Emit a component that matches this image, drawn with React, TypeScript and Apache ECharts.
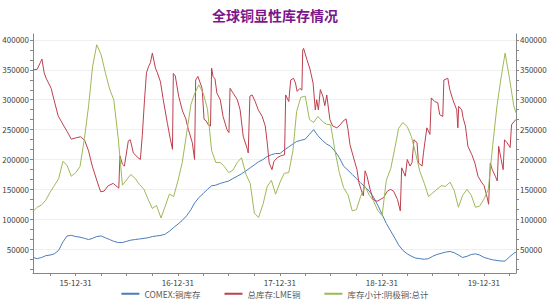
import React, { useEffect, useRef } from 'react';
import * as echarts from 'echarts';

const TITLE = '全球铜显性库存情况';
const NAME_COMEX = 'COMEX:铜库存';
const NAME_LME = '总库存:LME铜';
const NAME_CN = '库存小计:阴极铜:总计';

const X_START = '2015-08-01';
const X_END = '2020-04-24';
const X_LABEL_DATES = ['2015-12-31', '2016-12-31', '2017-12-31', '2018-12-31', '2019-12-31'];
const Y_MIN = 10000;
const Y_MAX = 410000;
const Y_LABEL_VALUES = [50000, 100000, 150000, 200000, 250000, 300000, 350000, 400000];

// half-month sampling calendar for COMEX and China series (1st and 16th of each month)
function buildHalfMonthDates(): string[] {
  const out: string[] = [];
  for (let y = 2015; y <= 2020; y++) {
    for (let m = 1; m <= 12; m++) {
      if (y === 2015 && m < 8) continue;
      if (y === 2020 && m > 4) continue;
      const mm = String(m).padStart(2, '0');
      out.push(`${y}-${mm}-01`, `${y}-${mm}-16`);
    }
  }
  out.push('2020-04-24');
  return out;
}
const sampleDates = buildHalfMonthDates();

const comexValues = [
  36000, 34000, 36000, 39000, 40000, 42000, 48000, 62000, 72000, 73000,
  71000, 70000, 68000, 66000, 68000, 71000, 72000, 69000, 66000, 63000,
  61000, 61000, 63000, 65000, 66000, 67000, 68000, 69000, 71000, 72000,
  73000, 75000, 80000, 86000, 92000, 98000, 106000, 116000, 127000, 136000,
  143000, 150000, 156000, 157000, 160000, 162000, 164000, 168000, 172000, 176000,
  181000, 186000, 191000, 196000, 200000, 205000, 208000, 210000, 210000, 216000,
  221000, 226000, 230000, 232000, 234000, 242000, 250000, 240000, 232000, 226000,
  222000, 214000, 203000, 189000, 182000, 175000, 168000, 161000, 154000, 147000,
  137000, 124000, 108000, 93000, 80000, 68000, 57000, 48000, 42000, 38000,
  35000, 34000, 33000, 34000, 38000, 41000, 43000, 45000, 46000, 44000,
  40000, 36000, 38000, 41000, 42000, 40000, 36000, 34000, 32000, 31000,
  30000, 30000, 37000, 43000, 45000,
];

const chinaValues = [
  113000, 120000, 124000, 132000, 145000, 156000, 168000, 197000, 190000, 172000,
  178000, 188000, 235000, 290000, 355000, 392000, 375000, 345000, 318000, 300000,
  235000, 157000, 166000, 175000, 168000, 158000, 150000, 133000, 118000, 123000,
  102000, 122000, 142000, 138000, 165000, 195000, 245000, 292000, 310000, 325000,
  311000, 285000, 215000, 195000, 195000, 188000, 178000, 182000, 195000, 203000,
  175000, 160000, 110000, 103000, 125000, 155000, 165000, 142000, 162000, 177000,
  178000, 215000, 280000, 304000, 306000, 267000, 262000, 272000, 264000, 259000,
  258000, 215000, 178000, 153000, 141000, 114000, 116000, 138000, 155000, 140000,
  131000, 115000, 106000, 165000, 185000, 220000, 252000, 262000, 255000, 238000,
  210000, 180000, 160000, 138000, 144000, 150000, 156000, 155000, 162000, 148000,
  120000, 140000, 150000, 140000, 120000, 122000, 134000, 150000, 225000, 290000,
  335000, 378000, 335000, 290000, 278000,
];

const lmeData: [string, number][] = [
  ['2015-08-02', 350000], ['2015-08-16', 351000], ['2015-08-27', 362000], ['2015-09-02', 368000],
  ['2015-09-10', 345000], ['2015-09-17', 336000], ['2015-10-05', 319000], ['2015-10-15', 300000],
  ['2015-10-30', 273000], ['2015-11-17', 258000], ['2015-12-01', 247000], ['2015-12-16', 234000],
  ['2015-12-31', 236000], ['2016-01-18', 238000], ['2016-02-02', 232000], ['2016-02-16', 214000],
  ['2016-02-29', 189000], ['2016-03-17', 164000], ['2016-03-30', 146000], ['2016-04-11', 147000],
  ['2016-04-26', 156000], ['2016-05-14', 160000], ['2016-05-29', 154000], ['2016-06-03', 152000],
  ['2016-06-07', 206000], ['2016-06-16', 192000], ['2016-06-23', 189000], ['2016-07-07', 231000],
  ['2016-07-14', 233000], ['2016-07-25', 211000], ['2016-08-08', 204000], ['2016-08-19', 200000],
  ['2016-08-26', 240000], ['2016-09-03', 300000], ['2016-09-10', 345000], ['2016-09-17', 355000],
  ['2016-09-24', 362000], ['2016-10-01', 378000], ['2016-10-12', 353000], ['2016-10-19', 345000],
  ['2016-10-30', 330000], ['2016-11-09', 300000], ['2016-11-24', 260000], ['2016-12-04', 235000],
  ['2016-12-12', 217000], ['2016-12-15', 344000], ['2016-12-22', 340000], ['2017-01-03', 306000],
  ['2017-01-17', 281000], ['2017-01-28', 269000], ['2017-02-07', 250000], ['2017-02-21', 228000],
  ['2017-03-01', 200000], ['2017-03-05', 333000], ['2017-03-13', 339000], ['2017-03-28', 319000],
  ['2017-04-04', 267000], ['2017-04-11', 265000], ['2017-04-19', 258000], ['2017-04-27', 256000],
  ['2017-05-01', 353000], ['2017-05-06', 339000], ['2017-05-13', 335000], ['2017-05-20', 311000],
  ['2017-06-01', 300000], ['2017-06-11', 272000], ['2017-06-25', 250000], ['2017-07-02', 245000],
  ['2017-07-06', 319000], ['2017-07-17', 311000], ['2017-08-01', 300000], ['2017-08-11', 283000],
  ['2017-08-22', 239000], ['2017-09-06', 217000], ['2017-09-09', 211000], ['2017-09-15', 306000],
  ['2017-09-23', 308000], ['2017-10-04', 297000], ['2017-10-15', 283000], ['2017-10-29', 272000],
  ['2017-11-09', 256000], ['2017-11-16', 228000], ['2017-11-23', 194000], ['2017-12-03', 183000],
  ['2017-12-10', 197000], ['2017-12-22', 203000], ['2018-01-03', 206000], ['2018-01-17', 208000],
  ['2018-01-21', 308000], ['2018-02-01', 297000], ['2018-02-08', 333000], ['2018-02-18', 336000],
  ['2018-02-25', 328000], ['2018-03-03', 314000], ['2018-03-13', 319000], ['2018-03-20', 316000],
  ['2018-03-23', 383000], ['2018-03-26', 386000], ['2018-04-07', 367000], ['2018-04-17', 353000],
  ['2018-04-29', 328000], ['2018-05-07', 283000], ['2018-05-12', 300000], ['2018-05-18', 283000],
  ['2018-05-25', 317000], ['2018-06-03', 306000], ['2018-06-10', 290000], ['2018-06-17', 308000],
  ['2018-06-28', 267000], ['2018-07-08', 256000], ['2018-07-23', 253000], ['2018-08-04', 258000],
  ['2018-08-14', 264000], ['2018-08-25', 268000], ['2018-09-01', 250000], ['2018-09-08', 225000],
  ['2018-09-19', 206000], ['2018-10-03', 183000], ['2018-10-10', 161000], ['2018-10-21', 145000],
  ['2018-10-26', 139000], ['2018-11-01', 181000], ['2018-11-08', 172000], ['2018-11-19', 150000],
  ['2018-11-30', 133000], ['2018-12-14', 130000], ['2018-12-25', 133000], ['2019-01-06', 136000],
  ['2019-01-20', 147000], ['2019-01-31', 150000], ['2019-02-11', 147000], ['2019-02-25', 133000],
  ['2019-03-07', 114000], ['2019-03-12', 186000], ['2019-03-25', 172000], ['2019-04-01', 200000],
  ['2019-04-11', 189000], ['2019-04-18', 195000], ['2019-04-25', 233000], ['2019-05-06', 228000],
  ['2019-05-11', 194000], ['2019-05-24', 189000], ['2019-05-29', 211000], ['2019-06-10', 253000],
  ['2019-06-21', 242000], ['2019-06-26', 303000], ['2019-07-08', 297000], ['2019-07-19', 295000],
  ['2019-07-26', 275000], ['2019-08-06', 272000], ['2019-08-10', 333000], ['2019-08-24', 336000],
  ['2019-08-31', 317000], ['2019-09-11', 300000], ['2019-09-25', 283000], ['2019-09-29', 253000],
  ['2019-10-02', 289000], ['2019-10-13', 283000], ['2019-10-18', 269000], ['2019-10-26', 256000],
  ['2019-11-04', 222000], ['2019-11-18', 208000], ['2019-11-29', 194000], ['2019-12-10', 172000],
  ['2019-12-24', 161000], ['2020-01-01', 156000], ['2020-01-12', 136000], ['2020-01-17', 125000],
  ['2020-01-23', 194000], ['2020-01-30', 183000], ['2020-02-10', 172000], ['2020-02-17', 164000],
  ['2020-02-22', 222000], ['2020-03-02', 200000], ['2020-03-09', 183000], ['2020-03-14', 233000],
  ['2020-03-23', 228000], ['2020-04-03', 220000], ['2020-04-08', 258000], ['2020-04-13', 261000],
  ['2020-04-24', 267000],
];

function toTs(s: string): number {
  const [y, m, d] = s.split('-').map(Number);
  return new Date(y, m - 1, d).getTime();
}

// quarter-end tick marks on the date axis
function quarterTicks(): number[] {
  const out: number[] = [];
  const ends = [[3, 31], [6, 30], [9, 30], [12, 31]];
  for (let y = 2015; y <= 2020; y++) {
    for (const [m, d] of ends) {
      const t = new Date(y, m - 1, d).getTime();
      if (t >= toTs(X_START) && t <= toTs(X_END)) out.push(t);
    }
  }
  return out;
}

// minor ticks on value axes (thirds of the 50000 step)
function yTicks(): number[] {
  const out: number[] = [];
  for (let k = 1; k <= 24; k++) {
    const v = Math.round((k * 50000) / 3);
    if (v >= Y_MIN && v <= Y_MAX) out.push(v);
  }
  return out;
}

function fmtDate(v: number): string {
  const d = new Date(v);
  const yy = String(d.getFullYear() % 100).padStart(2, '0');
  const mm = String(d.getMonth() + 1).padStart(2, '0');
  const dd = String(d.getDate()).padStart(2, '0');
  return `${yy}-${mm}-${dd}`;
}

const FONT = '"Noto Sans CJK SC", "Noto Sans", sans-serif';
const AXIS_COLOR = '#868686';
const LABEL_COLOR = '#404040';

function valueAxis(position: 'left' | 'right') {
  return {
    type: 'value',
    position,
    min: Y_MIN,
    max: Y_MAX,
    axisLine: { show: true, lineStyle: { color: AXIS_COLOR, width: 1 } },
    axisTick: { show: true, length: 3, customValues: yTicks(), lineStyle: { color: AXIS_COLOR } },
    axisLabel: {
      customValues: Y_LABEL_VALUES,
      formatter: (v: number) => String(Math.round(v)),
      fontSize: 8,
      color: LABEL_COLOR,
      margin: 4,
      fontFamily: FONT,
    },
    splitLine: { show: false },
  };
}

export default function App() {
  const ref = useRef<HTMLDivElement>(null);

  useEffect(() => {
    if (!ref.current) return;
    const chart = echarts.init(ref.current, null, { renderer: 'svg' });
    const comexData = sampleDates.map((d, i) => [toTs(d), comexValues[i]]);
    const chinaData = sampleDates.map((d, i) => [toTs(d), chinaValues[i]]);
    const lmeSeries = lmeData.map(([d, v]) => [toTs(d), v]);

    chart.setOption({
      animation: false,
      backgroundColor: '#ffffff',
      textStyle: { fontFamily: FONT },
      title: {
        text: TITLE,
        left: 'center',
        top: 3,
        textStyle: { fontSize: 14, fontWeight: 'bold', color: '#7A168B', fontFamily: FONT },
      },
      legend: {
        data: [NAME_COMEX, NAME_LME, NAME_CN],
        bottom: 3,
        left: 'center',
        icon: 'rect',
        itemWidth: 18,
        itemHeight: 2,
        itemGap: 24,
        textStyle: { fontSize: 8.5, color: '#595959', fontFamily: FONT },
      },
      grid: { left: 33, right: 34, top: 34, bottom: 33, outerBoundsMode: 'none', containLabel: false },
      xAxis: {
        type: 'value',
        min: toTs(X_START),
        max: toTs(X_END),
        axisLine: { show: true, lineStyle: { color: AXIS_COLOR, width: 1 } },
        axisTick: { show: true, length: 3, customValues: quarterTicks(), lineStyle: { color: AXIS_COLOR } },
        axisLabel: {
          customValues: X_LABEL_DATES.map(toTs),
          formatter: (v: number) => fmtDate(v),
          fontSize: 8,
          color: LABEL_COLOR,
          margin: 5,
          fontFamily: FONT,
        },
        splitLine: { show: false },
      },
      yAxis: [
        valueAxis('left'),
        valueAxis('right'),
        {
          type: 'value',
          position: 'left',
          min: Y_MIN,
          max: Y_MAX,
          axisLine: { show: false },
          axisTick: { show: false, customValues: Y_LABEL_VALUES },
          axisLabel: { show: false, customValues: Y_LABEL_VALUES },
          splitLine: { show: true, lineStyle: { color: '#efefef', width: 1 } },
        },
      ],
      series: [
        {
          name: NAME_COMEX,
          type: 'line',
          yAxisIndex: 0,
          data: comexData,
          symbol: 'none',
          lineStyle: { width: 1, color: '#4A7DBA' },
          itemStyle: { color: '#4A7DBA' },
        },
        {
          name: NAME_LME,
          type: 'line',
          yAxisIndex: 0,
          data: lmeSeries,
          symbol: 'none',
          lineStyle: { width: 1, color: '#BE3F4E' },
          itemStyle: { color: '#BE3F4E' },
        },
        {
          name: NAME_CN,
          type: 'line',
          yAxisIndex: 1,
          data: chinaData,
          symbol: 'none',
          lineStyle: { width: 1, color: '#9DB957' },
          itemStyle: { color: '#9DB957' },
        },
      ],
    });
    return () => chart.dispose();
  }, []);

  return (
    <div
      ref={ref}
      style={{ position: 'fixed', left: 0, top: 0, width: 550, height: 306, background: '#fff' }}
    />
  );
}
